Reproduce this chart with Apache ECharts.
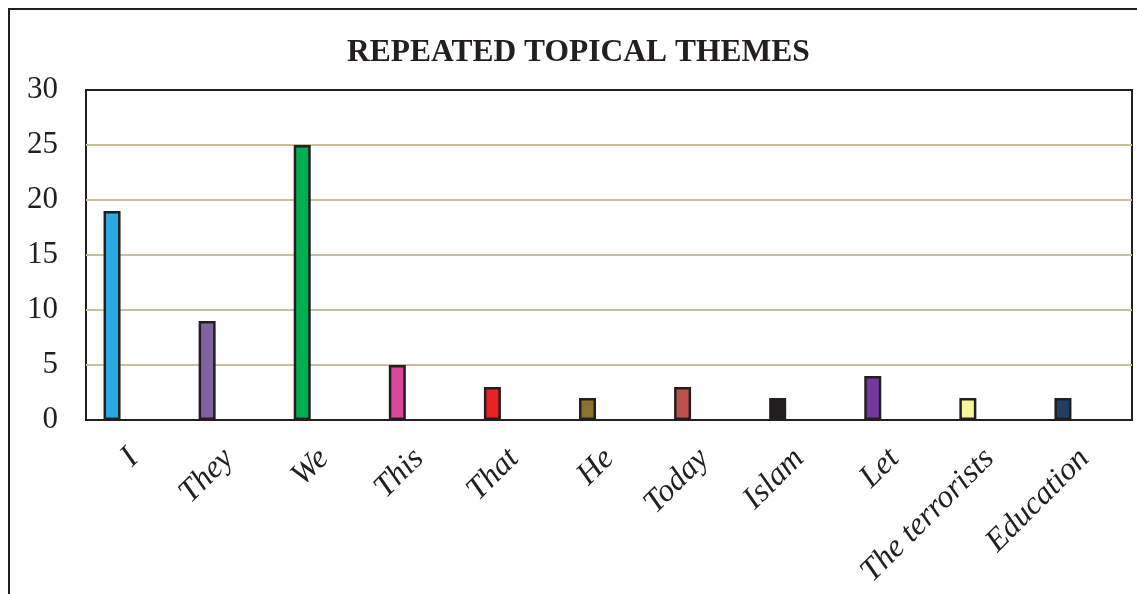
<!DOCTYPE html>
<html>
<head>
<meta charset="utf-8">
<script src="https://cdn.jsdelivr.net/npm/echarts@6/dist/echarts.min.js"></script>
<style>
  html, body { margin: 0; padding: 0; background: #fff; }
  #chart { width: 1137px; height: 594px; }
</style>
</head>
<body>
<div id="chart"></div>
<script>
  // categories and counts
  var categories = ['I', 'They', 'We', 'This', 'That', 'He', 'Today', 'Islam', 'Let', 'The terrorists', 'Education'];
  var counts = [19, 9, 25, 5, 3, 2, 3, 2, 4, 2, 2];
  var barColors = ['#29ABE2', '#8064A2', '#00B050', '#DA479B', '#ED2024', '#89732E',
                   '#C0504D', '#231F20', '#7238A0', '#FAF59A', '#1F3F62'];
  var yTicks = { min: 0, max: 30, interval: 5 };

  var serif = '"Liberation Serif", "DejaVu Serif", serif';
  var ink = '#231F20';

  var chart = echarts.init(document.getElementById('chart'));

  chart.setOption({
    backgroundColor: '#fff',
    animation: false,
    title: {
      text: 'REPEATED TOPICAL THEMES',
      left: 342,
      top: 32,
      textStyle: { fontFamily: serif, fontSize: 31.5, fontWeight: 'bold', color: ink }
    },
    // outer frame of the figure
    graphic: [{
      type: 'rect',
      shape: { x: 9, y: 9, width: 1150, height: 620 },
      style: { fill: 'none', stroke: ink, lineWidth: 2 },
      silent: true
    }],
    grid: {
      left: 86, top: 90, right: 5, bottom: 174,
      show: true, borderColor: ink, borderWidth: 2, backgroundColor: 'transparent'
    },
    xAxis: {
      type: 'category',
      data: categories,
      axisLine: { lineStyle: { color: ink, width: 2 } },
      axisTick: { show: false },
      axisLabel: {
        interval: 0,
        rotate: 45,
        margin: 34,
        fontFamily: serif,
        fontStyle: 'italic',
        fontSize: 32,
        color: ink
      }
    },
    yAxis: {
      type: 'value',
      min: yTicks.min,
      max: yTicks.max,
      interval: yTicks.interval,
      axisLine: { show: false },
      axisTick: { show: false },
      axisLabel: { margin: 28, fontFamily: serif, fontSize: 31, color: ink },
      splitLine: { showMinLine: false, showMaxLine: false, lineStyle: { color: '#C8C09A', width: 2 } }
    },
    series: [
      {
        type: 'bar',
        barWidth: 17,
        barGap: '153%',
        data: counts.map(function (v, i) {
          return { value: v, itemStyle: { color: barColors[i] } };
        }),
        itemStyle: { borderColor: ink, borderWidth: 2.5 },
        z: 3
      },
      {
        // empty spacer series, keeps the bars left of the category centre
        type: 'bar',
        barWidth: 17,
        data: categories.map(function () { return '-'; })
      }
    ]
  });
</script>
</body>
</html>
